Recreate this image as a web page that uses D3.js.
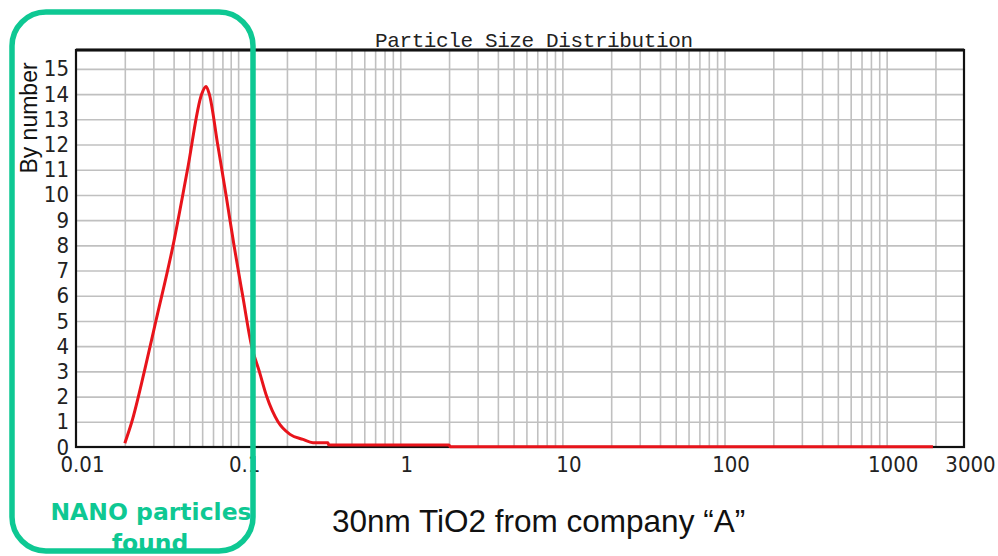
<!DOCTYPE html>
<html>
<head>
<meta charset="utf-8">
<script src="https://cdn.jsdelivr.net/npm/d3@7"></script>
<style>
  body { margin: 0; background: #fff; }
  .tick-label { font-family: "Liberation Sans Narrow", "DejaVu Sans Condensed", "Liberation Sans", sans-serif; font-size: 22px; fill: #222; }
  .grid line { stroke: #c0c0c0; stroke-width: 1.6; }
  .grid path { display: none; }
</style>
</head>
<body>
<div id="chart-container"></div>
<script>
// particle sizes (um) and number distribution
let sizes = [0.0200, 0.0221, 0.0264, 0.0311, 0.0397, 0.0487, 0.0596, 0.0634,
             0.0664, 0.0748, 0.0842, 0.0943, 0.1067, 0.1212, 0.1351, 0.1501, 0.1762,
             0.2089, 0.2513, 0.2896, 0.358, 0.362, 2.00, 2.03, 1930];
let byNumber = [0.15, 1, 3, 5, 8, 11, 14, 14.3,
                14, 12, 10, 8, 6, 4, 3, 2, 1,
                0.5, 0.3, 0.17, 0.17, 0.08, 0.08, 0.01, 0.01];

let xTickValues = [0.01, 0.1, 1, 10, 100, 1000, 3000];
let xTickLabels = ["0.01", "0.1", "1", "10", "100", "1000", "3000"];
let yTickValues = [0, 1, 2, 3, 4, 5, 6, 7, 8, 9, 10, 11, 12, 13, 14, 15];

let W = 998, H = 556;
let plotL = 76, plotR = 964, plotT = 50, plotB = 447;

let x = d3.scaleLog().domain([0.01, 3000]).range([plotL, plotR]);
let y = d3.scaleLinear().domain([0, 15.75]).range([plotB, plotT]);

let svg = d3.select("#chart-container")
    .append("svg")
    .attr("width", W)
    .attr("height", H);

// log grid: 1..9 in every decade
let gridX = [];
[0.01, 0.1, 1, 10, 100, 1000].forEach(function(d) {
  for (let m = 1; m <= 9; m++) {
    let v = +(d * m).toPrecision(3);
    if (v > 0.01 && v < 3000) gridX.push(v);
  }
});

svg.append("g")
    .attr("class", "grid")
    .attr("transform", `translate(0,${plotB})`)
    .call(d3.axisBottom(x).tickValues(gridX).tickSize(-(plotB - plotT)).tickFormat(""));

svg.append("g")
    .attr("class", "grid")
    .attr("transform", `translate(${plotL},0)`)
    .call(d3.axisLeft(y).tickValues(yTickValues.filter(d => d > 0)).tickSize(-(plotR - plotL)).tickFormat(""));

// frame
svg.append("rect")
    .attr("x", plotL).attr("y", plotT)
    .attr("width", plotR - plotL).attr("height", plotB - plotT)
    .attr("fill", "none").attr("stroke", "#111").attr("stroke-width", 2.2);
svg.append("line")
    .attr("x1", plotL).attr("x2", plotR).attr("y1", plotT).attr("y2", plotT)
    .attr("stroke", "#111").attr("stroke-width", 3.2);

// tick labels
let xAxis = svg.append("g")
    .attr("transform", `translate(0,${plotB})`)
    .call(d3.axisBottom(x).tickValues(xTickValues).tickSize(0)
      .tickFormat(function(d, i) { return xTickLabels[i]; }));
xAxis.select(".domain").remove();
xAxis.selectAll("text")
    .attr("class", "tick-label")
    .attr("fill", null)
    .attr("dx", 6)
    .attr("y", 9)
    .attr("dy", "0.71em");

let yAxis = svg.append("g")
    .attr("transform", `translate(${plotL},0)`)
    .call(d3.axisLeft(y).tickValues(yTickValues).tickSize(0).tickFormat(d3.format("d")));
yAxis.select(".domain").remove();
yAxis.selectAll("text")
    .attr("class", "tick-label")
    .attr("fill", null)
    .attr("x", -7);

// the distribution curve
let line = d3.line()
    .x(function(d, i) { return x(sizes[i]); })
    .y(function(d) { return y(d); })
    .curve(d3.curveMonotoneX);

svg.append("path")
    .datum(byNumber)
    .attr("fill", "none")
    .attr("stroke", "#e8141b")
    .attr("stroke-width", 3)
    .attr("stroke-linejoin", "round")
    .attr("d", line);

// titles
svg.append("text")
    .attr("x", 375).attr("y", 47)
    .attr("textLength", 318)
    .attr("lengthAdjust", "spacing")
    .style("font-family", "'Liberation Mono', monospace")
    .style("font-size", "21px")
    .style("fill", "#222")
    .text("Particle Size Distribution");

svg.append("text")
    .attr("transform", "translate(37,118)rotate(-90)")
    .attr("text-anchor", "middle")
    .style("font-family", "'Liberation Sans', Arial, sans-serif")
    .style("font-size", "23px")
    .style("fill", "#111")
    .text("By number");

svg.append("text")
    .attr("x", 332).attr("y", 532)
    .style("font-family", "'Liberation Sans', Arial, sans-serif")
    .style("font-size", "31.5px")
    .style("fill", "#111")
    .text("30nm TiO2 from company \u201CA\u201D");

// highlight box
let green = "#0ec893";
svg.append("text")
    .attr("x", 151).attr("y", 520)
    .attr("text-anchor", "middle")
    .style("font-family", "'DejaVu Sans', sans-serif")
    .style("font-weight", "bold")
    .style("font-size", "23.5px")
    .style("fill", green)
    .text("NANO particles");
svg.append("text")
    .attr("x", 150).attr("y", 551)
    .attr("text-anchor", "middle")
    .style("font-family", "'DejaVu Sans', sans-serif")
    .style("font-weight", "bold")
    .style("font-size", "23.5px")
    .style("fill", green)
    .text("found");

svg.append("rect")
    .attr("x", 12).attr("y", 12)
    .attr("width", 241).attr("height", 539)
    .attr("rx", 34).attr("ry", 34)
    .attr("fill", "none")
    .attr("stroke", green)
    .attr("stroke-width", 5.5);
</script>
</body>
</html>
